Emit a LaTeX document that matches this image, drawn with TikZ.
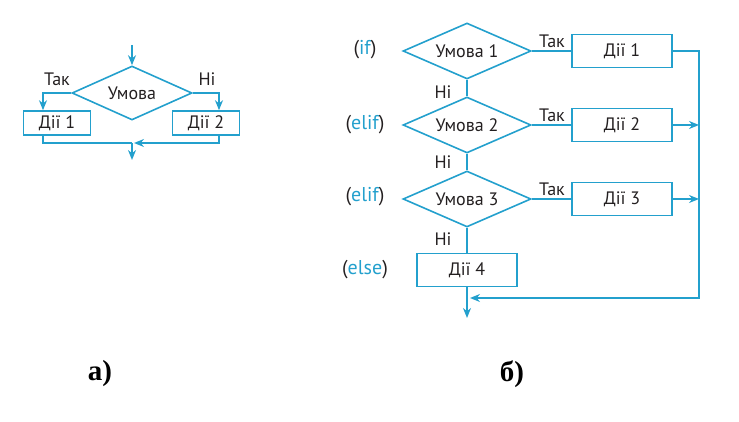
\documentclass[tikz,border=0pt]{standalone}
\usepackage{fontspec}
\setmainfont{PT Sans}
\newfontfamily\labfont{Liberation Serif}
\usetikzlibrary{shapes.geometric,arrows.meta}
\definecolor{lblue}{RGB}{35,160,205}
\definecolor{tblack}{RGB}{35,31,32}
\tikzset{
  ln/.style={draw=lblue, line width=1.6pt},
  arr/.style={ln, -{Stealth[length=10pt,width=8pt]}},
  dia/.style={diamond, ln, inner sep=0pt, aspect=2.3, text=tblack, font=\fontsize{18}{20}\selectfont},
  box/.style={rectangle, ln, inner sep=0pt, text=tblack, font=\fontsize{18}{20}\selectfont},
  lbl/.style={text=tblack, inner sep=0pt, font=\fontsize{18}{20}\selectfont},
  side/.style={text=tblack, inner sep=0pt, font=\fontsize{20}{22}\selectfont},
  captxt/.style={text=black, inner sep=0pt, font=\labfont\bfseries\fontsize{29}{32}\selectfont}
}
\begin{document}
\begin{tikzpicture}[x=1pt,y=-1pt]
\useasboundingbox (0,0) rectangle (739,422);
% ---------- part a ----------
\node[dia, minimum width=120pt, minimum height=54pt] (ad) at (132,93) {Умова};
\node[box, minimum width=67pt, minimum height=24pt] (a1) at (57,123) {Дії 1};
\node[box, minimum width=67pt, minimum height=24pt] (a2) at (206,123) {Дії 2};
\coordinate (ain) at (132,45);
\coordinate (aL) at (43,93);
\coordinate (aR) at (219,93);
\coordinate (aj) at (132,143);
\coordinate (aout) at (132,160);
\draw[arr] (ain) -- (ad.north);
\draw[arr] (ad.west) -- (aL) -- (aL |- a1.north);
\draw[arr] (ad.east) -- (aR) -- (aR |- a2.north);
\draw[ln] (aL |- a1.south) |- (aj);
\draw[arr] (aR |- a2.south) |- ([xshift=2pt]aj);
\draw[arr] (aj) -- (aout);
\node[lbl] (ta) at (57,79) {Так};
\node[lbl] (na) at (207,79) {Ні};
% ---------- part b ----------
\node[dia, minimum width=128pt, minimum height=56pt] (d1) at (467,51) {Умова 1};
\node[dia, minimum width=128pt, minimum height=56pt] (d2) at (467,125) {Умова 2};
\node[dia, minimum width=128pt, minimum height=56pt] (d3) at (467,199) {Умова 3};
\node[box, minimum width=100pt, minimum height=33pt] (b1) at (622,51) {Дії 1};
\node[box, minimum width=100pt, minimum height=33pt] (b2) at (622,125) {Дії 2};
\node[box, minimum width=100pt, minimum height=33pt] (b3) at (622,199) {Дії 3};
\node[box, minimum width=100pt, minimum height=33pt] (b4) at (467,270) {Дії 4};
\coordinate (rtop) at (699,51);
\coordinate (rbot) at (699,298);
\coordinate (bj) at (467,298);
\coordinate (bout) at (467,318);
\draw[ln] (d1.east) -- (b1.west);
\draw[ln] (d2.east) -- (b2.west);
\draw[ln] (d3.east) -- (b3.west);
\draw[ln] (d1.south) -- (d2.north);
\draw[ln] (d2.south) -- (d3.north);
\draw[ln] (d3.south) -- (b4.north);
\draw[arr] (b1.east) -- (rtop) -- (rbot) -- ([xshift=3pt]bj);
\draw[arr] (b2.east) -- (b2.east -| rtop);
\draw[arr] (b3.east) -- (b3.east -| rtop);
\draw[arr] (b4.south) -- (bout);
\node[lbl] (t1) at (552,41) {Так};
\node[lbl] (t2) at (552,115) {Так};
\node[lbl] (t3) at (552,189) {Так};
\node[lbl] (n1) at (443,92) {Ні};
\node[lbl] (n2) at (443,162) {Ні};
\node[lbl] (n3) at (443,239) {Ні};
\node[side] (s1) at (365,50) {(\textcolor{lblue}{if})};
\node[side] (s2) at (365,125) {(\textcolor{lblue}{elif})};
\node[side] (s3) at (365,197) {(\textcolor{lblue}{elif})};
\node[side] (s4) at (365,270) {(\textcolor{lblue}{else})};
% ---------- captions ----------
\node[captxt] (ca) at (100,374) {а)};
\node[captxt] (cb) at (512,374) {б)};
\end{tikzpicture}
\end{document}
